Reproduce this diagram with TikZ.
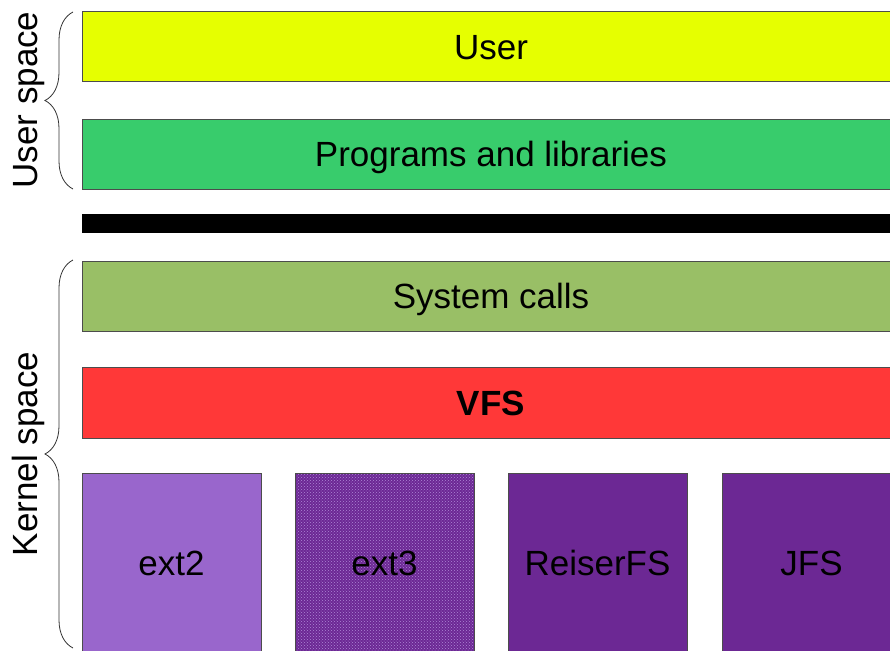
\documentclass[tikz,border=0pt]{standalone}
\usepackage{fontspec}
\setmainfont{Liberation Sans}
\usetikzlibrary{decorations.pathreplacing,patterns}
\definecolor{userclr}{RGB}{230,255,0}
\definecolor{progclr}{RGB}{56,204,108}
\definecolor{sysclr}{RGB}{153,191,102}
\definecolor{vfsclr}{RGB}{255,56,56}
\definecolor{ltpurple}{RGB}{153,102,204}
\definecolor{dotpurple}{RGB}{175,135,215}
\definecolor{dkpurple}{RGB}{108,40,148}
\tikzset{layer/.style={draw=black!70, line width=1pt, inner sep=0pt,
      minimum width=818pt, minimum height=70pt, text height=25pt, text depth=0pt}}
\tikzset{fsbox/.style={layer, minimum width=179pt, minimum height=180pt}}
\tikzset{side/.style={rotate=90, inner sep=0pt, text height=25pt, text depth=0pt}}
\tikzset{brc/.style={decoration={brace, amplitude=28pt, aspect=0.5},
      decorate, draw=black!80, line width=0.8pt}}

\begin{document}
\begin{tikzpicture}[x=1pt,y=-1pt,font=\fontsize{35}{42}\selectfont]
    \clip (0,0) rectangle (890,650);
    \node[layer, fill=userclr] (user) at (491,47) {User};
    \node[layer, fill=progclr] (progs) at (491,154) {Programs and libraries};
    \node[layer, draw=none, fill=black, text height=0pt, minimum height=19pt] (bar) at (491,223.5) {};
    \node[layer, fill=sysclr] (syscalls) at (491,296) {System calls};
    \node[layer, fill=vfsclr, minimum height=71pt] (vfs) at (491,402.5) {\bfseries VFS};

    \node[fsbox, fill=ltpurple] (ext2) at (171.5,563) {ext2};
    \node[fsbox, preaction={fill=dkpurple}, pattern=crosshatch dots, pattern color=dotpurple] (ext3) at (384.5,563) {ext3};
    \node[fsbox, fill=dkpurple] (reiser) at (597.5,563) {ReiserFS};
    \node[fsbox, fill=dkpurple] (jfs) at (811.5,563) {JFS};

    \coordinate (utop) at (73,12);
    \coordinate (ubot) at (73,189);
    \coordinate (ktop) at (73,260);
    \coordinate (kbot) at (73,648);
    \draw[brc] (ubot) -- (utop);
    \draw[brc] (kbot) -- (ktop);
    \node[side] (uspace) at (25,100) {User space};
    \node[side] (kspace) at (25,454) {Kernel space};
\end{tikzpicture}
\end{document}
